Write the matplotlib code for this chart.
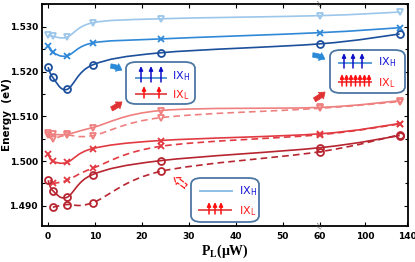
import numpy as np
import matplotlib
matplotlib.use("Agg")
import matplotlib.pyplot as plt
from matplotlib.path import Path
from matplotlib.patches import PathPatch, FancyBboxPatch, FancyArrowPatch

# ---------------- data (P_L in uW, energy in eV) ----------------
power = [0, 1, 4, 9.5, 24, 60, 133]
power_dash = [1, 4, 9.5, 24, 60, 133]

ixh_tri = [1.5282, 1.5279, 1.5277, 1.5309, 1.5318, 1.5325, 1.5333]
ixh_x = [1.5258, 1.5243, 1.5235, 1.5264, 1.5273, 1.5287, 1.5298]
ixh_o = [1.5210, 1.5187, 1.5160, 1.5215, 1.5242, 1.5262, 1.5284]

ixl_tri = [1.5062, 1.5060, 1.5060, 1.5075, 1.5113, 1.5120, 1.5135]
ixl_tri_dash = [1.5058, 1.5050, 1.5058, 1.5057, 1.5097, 1.5118, 1.5133]
ixl_x = [1.5015, 1.5000, 1.4997, 1.5028, 1.5046, 1.5061, 1.5084]
ixl_x_dash = [1.4950, 1.4957, 1.4984, 1.5033, 1.5059, 1.5083]
ixl_o = [1.4957, 1.4934, 1.4919, 1.4970, 1.5001, 1.5030, 1.5057]
ixl_o_dash = [1.4897, 1.4903, 1.4907, 1.4977, 1.5021, 1.5059]

xticks = [0, 10, 20, 30, 40, 50, 60, 100, 140]
yticks = [1.490, 1.500, 1.510, 1.520, 1.530]

# broken x axis: linear up to 50, compressed after
xr = [-10, 50, 60, 100, 140, 200]
xt = [-10, 50, 58, 67.6, 76.5, 89.85]


def fwd(x):
    return np.interp(x, xr, xt)


def inv(x):
    return np.interp(x, xt, xr)


W, H = 415, 262


def fp(x, y):
    return (x / W, 1 - y / H)


fig = plt.figure(figsize=(W / 100, H / 100), dpi=100)
ax = fig.add_axes([42 / W, 1 - 226 / H, 366 / W, 222 / H])
ax.set_xscale("function", functions=(fwd, inv))


def smooth(xs, ys, color, ls):
    # smooth curve through the measured points (Catmull-Rom as Bezier)
    tx = fwd(np.array(xs, float))
    P = np.column_stack([tx, ys])
    n = len(P)
    verts = [P[0]]
    codes = [Path.MOVETO]
    for i in range(n - 1):
        a = P[i - 1] if i > 0 else P[i]
        d = P[i + 2] if i + 2 < n else P[i + 1]
        c1 = P[i] + (P[i + 1] - a) / 6
        c2 = P[i + 1] - (d - P[i]) / 6
        verts += [c1, c2, P[i + 1]]
        codes += [Path.CURVE4] * 3
    verts = np.array(verts)
    verts[:, 0] = inv(verts[:, 0])
    patch = PathPatch(Path(verts, codes), fill=False, edgecolor=color,
                      lw=1.2, linestyle=ls)
    ax.add_patch(patch)


c_lb, c_mb, c_db = "#9cc6ea", "#2f88d8", "#1c4f9c"
c_pk, c_rd, c_dr = "#ef8080", "#e23a42", "#b72530"
dash = (0, (4, 2.5))

series = [
    (power, ixh_tri, c_lb, "-", "v"),
    (power, ixh_x, c_mb, "-", "x"),
    (power, ixh_o, c_db, "-", "o"),
    (power, ixl_tri, c_pk, "-", "v"),
    (power, ixl_tri_dash, c_pk, dash, "v"),
    (power, ixl_x, c_rd, "-", "x"),
    (power_dash, ixl_x_dash, c_rd, dash, "x"),
    (power, ixl_o, c_dr, "-", "o"),
    (power_dash, ixl_o_dash, c_dr, dash, "o"),
]
for xs, ys, col, ls, mk in series:
    smooth(xs, ys, col, ls)
    ax.plot(xs, ys, linestyle="none", marker=mk, markersize=5 if mk != "x" else 4,
            markerfacecolor="none", markeredgecolor=col, markeredgewidth=1.3)

ax.set_xlim(-1.3, 141)
ax.set_ylim(1.4855, 1.5351)
ax.set_xticks(xticks)
ax.set_xticklabels([str(t) for t in xticks])
ax.set_yticks(yticks)
ax.set_yticklabels(["%.3f" % t for t in yticks])
ax.set_yticks(np.arange(1.490, 1.5351, 0.005), minor=True)
ax.tick_params(axis="both", which="both", direction="in", top=True, right=True,
               labelsize=6.5, width=0.8, length=3, pad=4)
ax.tick_params(axis="y", which="minor", length=2)
ax.tick_params(axis="y", pad=3)
for lab in ax.get_xticklabels() + ax.get_yticklabels():
    lab.set_fontweight("bold")
for s in ax.spines.values():
    s.set_linewidth(1.3)

# break marks
for yv in (0, 1):
    ax.text(60, 1.4855 if yv == 0 else 1.5351, "//", ha="center", va="center",
            fontsize=5, rotation=70, color="#444444")

fig.text(7 / W, 1 - 115 / H, "Energy  (eV)", rotation=90, ha="center", va="center",
         fontsize=7.5, fontweight="bold")
fig.text(225 / W, 1 - 251 / H, r"P$_\mathregular{L}$(μW)", ha="center", va="center",
         fontsize=10, fontweight="bold", family="Liberation Serif")

# ---------------- insets ----------------
box_col = "#4d77a3"


def box(x0, y0, x1, y1):
    (fx0, fy1) = fp(x0, y0)
    (fx1, fy0) = fp(x1, y1)
    b = FancyBboxPatch((fx0, fy0), fx1 - fx0, fy1 - fy0,
                       boxstyle="round,pad=0,rounding_size=0.025",
                       transform=fig.transFigure, facecolor="white",
                       edgecolor=box_col, lw=1.3, zorder=5)
    fig.add_artist(b)


def hline(x0, x1, y, col):
    a, b = fp(x0, y), fp(x1, y)
    fig.add_artist(plt.Line2D([a[0], b[0]], [a[1], b[1]], color=col, lw=1.4,
                              transform=fig.transFigure, zorder=6))


def uparrows(xs, y0, y1, col):
    for x in xs:
        a = FancyArrowPatch(fp(x, y0), fp(x, y1), transform=fig.transFigure,
                            arrowstyle="-|>,head_width=1.1,head_length=2.4",
                            color=col, lw=1.1, shrinkA=0, shrinkB=0, zorder=7)
        fig.add_artist(a)


def label(x, y, sub, col):
    fig.text(*fp(x, y), "IX$_\\mathregular{%s}$" % sub, color=col, fontsize=8,
             ha="left", va="center", zorder=8)


blue_t, red_t = "#1818d8", "#ff1a1a"
blue_ln, red_ln = "#5b9bd5", "#e45454"

box(126, 62, 195, 104)
hline(136, 166, 78, blue_ln)
uparrows([141, 151, 161], 82, 66, "#1010c8")
hline(136, 166, 94, red_ln)
uparrows([144, 159], 98, 86, "#ff1010")
label(172, 76, "H", blue_t)
label(172, 95, "L", red_t)

box(330, 50, 405, 93)
hline(339, 371, 63, blue_ln)
uparrows([344, 353, 362], 68, 53, "#1010c8")
hline(339, 371, 82, red_ln)
uparrows([342, 346.5, 351, 355.5, 360, 364.5, 369], 86, 74, "#ff1010")
label(378, 62, "H", blue_t)
label(378, 83, "L", red_t)

box(191, 178, 259, 222)
hline(200, 232, 191, "#8ec0e8")
hline(199, 231, 210, red_ln)
uparrows([209, 215, 221], 214, 202, "#ff1010")
label(239, 191, "H", blue_t)
label(239, 211, "L", red_t)

# pointing arrows
def fat(p0, p1, col, rad=0.0, dashed=False):
    a = FancyArrowPatch(fp(*p0), fp(*p1), transform=fig.transFigure,
                        arrowstyle="simple,head_width=6,head_length=4,tail_width=3.2",
                        connectionstyle="arc3,rad=%g" % rad,
                        facecolor="none" if dashed else col, edgecolor=col,
                        lw=0.9 if dashed else 0.5,
                        linestyle="--" if dashed else "-", zorder=6)
    fig.add_artist(a)


fat((108, 66), (124, 72), "#2a8ad8", rad=-0.2)
fat((109, 110), (124, 100), "#e03232", rad=0.1)
fat((310, 55), (327, 61), "#2a8ad8", rad=-0.2)
fat((312, 101), (327, 90), "#e03232", rad=0.1)
fat((188, 188), (172, 176), "#ff2020", dashed=True)

fig.savefig("out.png", dpi=100)
